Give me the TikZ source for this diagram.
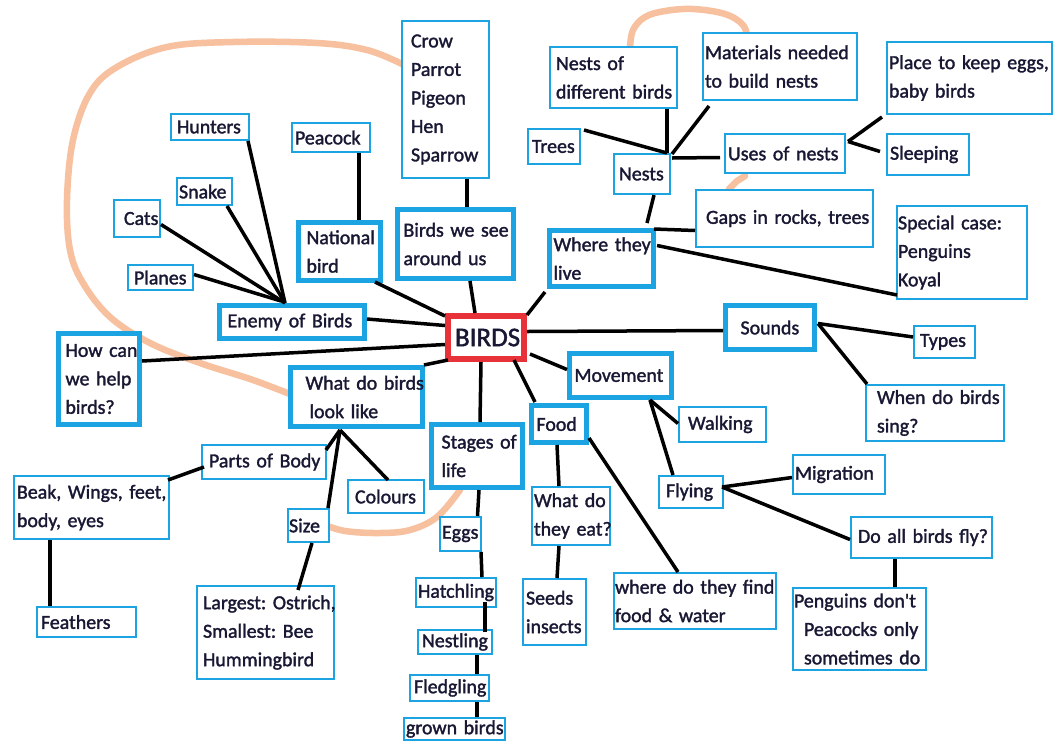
\documentclass[tikz,border=0pt]{standalone}
\usepackage{fontspec}
\setmainfont{Carlito}[FakeBold=1.6]
\usetikzlibrary{calc}
\definecolor{boxblue}{RGB}{28,163,226}
\definecolor{birdred}{RGB}{232,50,58}
\definecolor{crayon}{RGB}{247,192,158}
\definecolor{ink}{RGB}{24,24,52}

% \mmnode{style}{name}{x1}{y1}{x2}{y2}{left padding}{text}
\newcommand\mmnode[8]{%
  \pgfmathsetmacro\mmw{#5-#3-3}%
  \pgfmathsetmacro\mmh{#6-#4-3}%
  \node[#1, anchor=north west, minimum width=\mmw pt, minimum height=\mmh pt,
        inner xsep=0pt, inner ysep=0pt, text width=\mmw pt, align=left]
        (#2) at (#3,#4) {\frenchspacing\leftskip=#7pt\rightskip=-40pt plus 1fil\relax #8\par};}

\tikzset{
  every node/.style={font=\fontsize{19.9}{28.5}\selectfont, text=ink},
  thinbox/.style={draw=boxblue, line width=2pt, fill=white},
  thickbox/.style={draw=boxblue, line width=5pt, fill=white},
  corebox/.style={draw=birdred, line width=6pt, fill=white,
                  font=\fontsize{27}{30}\selectfont},
  link/.style={line width=3.5pt, draw=black},
  crayonline/.style={draw=crayon, line width=6.5pt, line cap=round, line join=round}
}

\begin{document}
\begin{tikzpicture}[x=1pt, y=-1pt]
\useasboundingbox (0,0) rectangle (1063,740);
\fill[white] (0,0) rectangle (1063,740);

% crayon strokes behind the boxes
\draw[crayonline] plot[smooth, tension=0.6] coordinates {
  (402,64) (367,50) (317,43) (233,42) (167,47) (117,67) (90,93) (73,140)
  (67,200) (70,250) (83,283) (110,317) (150,343) (200,363) (253,380) (300,398)};
\draw[crayonline] plot[smooth, tension=0.6] coordinates {
  (322,524) (345,531) (380,533) (410,530) (437,517) (460,490)};
\draw[crayonline] plot[smooth, tension=0.6] coordinates {
  (630,48) (633,30) (645,17) (665,11) (693,9) (725,14) (743,25) (748,40)};
\draw[crayonline] (745,176) -- (737,181) -- (729,189);

% centre
\mmnode{corebox}{birds}{445}{313}{524}{359}{7}{BIRDS}

% upper left branch
\mmnode{thinbox}{crow}{401}{20}{491}{180}{9}{Crow\\Parrot\\Pigeon\\Hen\\Sparrow}
\mmnode{thinbox}{hunters}{170}{113}{251}{142}{6}{Hunters}
\mmnode{thinbox}{peacock}{291}{122}{372}{154}{3}{Peacock}
\mmnode{thinbox}{snake}{176}{177}{234}{207}{2}{Snake}
\mmnode{thinbox}{cats}{113}{199}{162}{239}{10}{Cats}
\mmnode{thinbox}{planes}{127}{264}{195}{292}{6}{Planes}
\mmnode{thickbox}{national}{296}{220}{381}{281}{8}{National\\bird}
\mmnode{thickbox}{birdssee}{395}{207}{514}{279}{6}{Birds we see\\around us}
\mmnode{thickbox}{enemy}{217}{303}{365}{339}{8}{Enemy of Birds}
\mmnode{thickbox}{howcan}{56}{331}{140}{425}{7}{How can\\we help\\birds?}

% upper right branch
\mmnode{thickbox}{wherelive}{547}{228}{654}{287}{4}{Where they\\live}
\mmnode{thinbox}{nestsdiff}{549}{46}{679}{110}{6}{Nests of\\different birds}
\mmnode{thinbox}{trees}{527}{128}{582}{166}{4}{Trees}
\mmnode{thinbox}{nests}{613}{153}{672}{196}{5}{Nests}
\mmnode{thinbox}{materials}{702}{32}{859}{102}{2}{Materials needed\\to build nests}
\mmnode{thinbox}{placekeep}{886}{41}{1054}{116}{2}{Place to keep eggs,\\baby birds}
\mmnode{thinbox}{uses}{724}{133}{847}{175}{3}{Uses of nests}
\mmnode{thinbox}{sleeping}{886}{133}{971}{177}{3}{Sleeping}
\mmnode{thinbox}{gaps}{695}{189}{875}{249}{10}{Gaps in rocks, trees}
\mmnode{thinbox}{special}{896}{205}{1029}{301}{1}{Special case:\\Penguins\\Koyal}
\mmnode{thickbox}{sounds}{723}{303}{815}{350}{15}{Sounds}
\mmnode{thinbox}{types}{913}{325}{977}{360}{6}{Types}
\mmnode{thinbox}{whensing}{865}{384}{1006}{443}{11}{When do birds\\sing?}

% lower right branch
\mmnode{thickbox}{movement}{567}{351}{672}{398}{5}{Movement}
\mmnode{thinbox}{walking}{678}{406}{768}{444}{9}{Walking}
\mmnode{thinbox}{flying}{658}{475}{725}{510}{7}{Flying}
\mmnode{thinbox}{migration}{792}{454}{887}{496}{2}{Migration}
\mmnode{thinbox}{doallfly}{850}{516}{994}{560}{7}{Do all birds fly?}
\mmnode{thinbox}{penguins}{792}{587}{928}{672}{1}{Penguins don\textquotesingle t\\\hspace*{10pt}Peacocks only\\\hspace*{10pt}sometimes do}
\mmnode{thickbox}{food}{529}{403}{587}{443}{5}{Food}
\mmnode{thinbox}{whateat}{531}{486}{612}{547}{2}{What do\\they eat?}
\mmnode{thinbox}{seeds}{522}{578}{588}{647}{3}{Seeds\\insects}
\mmnode{thinbox}{wherefind}{613}{572}{778}{631}{1}{where do they find\\food \& water}

% lower left branch
\mmnode{thickbox}{whatlook}{288}{365}{423}{427}{15}{What do birds\\\hspace*{4pt}look like}
\mmnode{thinbox}{partsbody}{201}{444}{328}{481}{7}{Parts of Body}
\mmnode{thinbox}{beak}{13}{475}{171}{541}{3}{Beak, Wings, feet,\\body, eyes}
\mmnode{thinbox}{feathers}{36}{606}{138}{639}{4}{Feathers}
\mmnode{thinbox}{size}{287}{508}{331}{544}{1}{Size}
\mmnode{thinbox}{largest}{196}{585}{336}{681}{6}{Largest: Ostrich,\\Smallest: Bee\\Hummingbird}
\mmnode{thinbox}{colours}{347}{479}{426}{515}{7}{Colours}

% stages of life
\mmnode{thickbox}{stages}{429}{422}{523}{488}{10}{Stages of\\life}
\mmnode{thinbox}{eggs}{439}{516}{483}{553}{2}{Eggs}
\mmnode{thinbox}{hatchling}{415}{577}{498}{609}{2}{Hatchling}
\mmnode{thinbox}{nestling}{417}{629}{494}{656}{4}{Nestling}
\mmnode{thinbox}{fledgling}{409}{674}{491}{703}{4}{Fledgling}
\mmnode{thinbox}{grown}{403}{717}{507}{742}{2}{grown birds}

% junction points
\coordinate (ehub) at ($(enemy.north west)+(68,0)$);
\coordinate (nhub) at ($(nests.north west)+(54,0)$);
\coordinate (uhub) at ($(uses.east)+(2,-12)$);
\coordinate (mhub) at ($(movement.south west)+(83,0)$);
\coordinate (fhub) at ($(flying.east)+(-2,-5)$);
\coordinate (lhub) at ($(whatlook.south west)+(52,1)$);
\coordinate (shub) at ($(sounds.east)+(1,-4)$);

% connectors
\draw[link] ($(hunters.south east)+(-2,0)$) -- (ehub);
\draw[link] ($(snake.south east)+(-6,0)$) -- (ehub);
\draw[link] ($(cats.east)+(0,6)$) -- (ehub);
\draw[link] ($(planes.east)+(0,-3)$) -- ($(ehub)+(-4,-2)$);
\draw[link] ($(peacock.south west)+(68,0)$) -- ($(national.north west)+(63,0)$);
\draw[link] ($(national.south east)+(-8,-1)$) -- ($(birds.north west)+(0,3)$);
\draw[link] ($(enemy.east)+(0,-3)$) -- ($(birds.west)+(0,-12)$);
\draw[link] ($(howcan.east)+(0,-18)$) -- ($(birds.west)+(0,7)$);
\draw[link] ($(whatlook.north east)+(-1,0)$) -- ($(birds.south west)+(3,-2)$);
\draw[link] ($(birdssee.south west)+(75,0)$) -- ($(birds.north west)+(30,0)$);
\draw[link] ($(crow.south west)+(66,0)$) -- ($(birdssee.north west)+(72,0)$);
\draw[link] ($(wherelive.south west)+(-2,3)$) -- ($(birds.north east)+(0,2)$);
\draw[link] ($(birds.east)+(0,-6)$) -- ($(sounds.west)+(0,3)$);
\draw[link] ($(birds.south east)+(3,-8)$) -- ($(movement.west)+(0,-6)$);
\draw[link] ($(birds.south east)+(-13,-2)$) -- ($(food.north west)+(6,-1)$);
\draw[link] ($(birds.south)+(-5,0)$) -- ($(stages.north)+(3,0)$);
\draw[link] ($(stages.south)+(2,0)$) -- ($(eggs.north)+(17,0)$);
\draw[link] ($(eggs.south east)+(-1,0)$) -- ($(hatchling.north west)+(67,0)$);
\draw[link] ($(hatchling.south west)+(70,-6)$) -- ($(nestling.north west)+(68,3)$);
\draw[link] ($(nestling.south west)+(60,0)$) -- ($(fledgling.north west)+(68,0)$);
\draw[link] ($(fledgling.south west)+(68,0)$) -- ($(grown.north west)+(74,0)$);
\draw[link] ($(food.south west)+(28,0)$) -- ($(whateat.north west)+(28,0)$);
\draw[link] ($(whateat.south west)+(28,0)$) -- ($(seeds.north west)+(35,0)$);
\draw[link] ($(food.east)+(0,14)$) -- ($(wherefind.north west)+(65,0)$);
\draw[link] (mhub) -- ($(walking.west)+(0,-1)$);
\draw[link] (mhub) -- ($(flying.north west)+(15,0)$);
\draw[link] (fhub) -- ($(migration.west)+(0,3)$);
\draw[link] (fhub) -- ($(doallfly.west)+(0,2)$);
\draw[link] ($(doallfly.south west)+(45,0)$) -- ($(penguins.north west)+(103,0)$);
\draw[link] (shub) -- ($(types.west)+(0,-5)$);
\draw[link] (shub) -- ($(whensing.north west)+(2,0)$);
\draw[link] ($(wherelive.north east)+(-2,1)$) -- ($(gaps.west)+(0,12)$);
\draw[link] ($(wherelive.east)+(1,-13)$) -- ($(special.south west)+(1,-5)$);
\draw[link] ($(nests.south west)+(41,0)$) -- ($(wherelive.north west)+(100,-5)$);
\draw[link] ($(trees.north east)+(3,2)$) -- (nhub);
\draw[link] ($(nestsdiff.south west)+(118,0)$) -- (nhub);
\draw[link] ($(materials.south west)+(7,5)$) -- ($(nests.north east)+(1,1)$);
\draw[link] ($(nests.north east)+(1,5)$) -- ($(uses.west)+(-4,4)$);
\draw[link] (uhub) -- ($(placekeep.south west)+(-4,2)$);
\draw[link] (uhub) -- ($(sleeping.west)+(-6,-3)$);
\draw[link] ($(partsbody.west)+(3,5)$) -- ($(beak.north east)+(-2,5)$);
\draw[link] ($(beak.south west)+(37,0)$) -- ($(feathers.north west)+(14,0)$);
\draw[link] (lhub) -- ($(partsbody.north east)+(-1,6)$);
\draw[link] (lhub) -- ($(size.north east)+(-2,0)$);
\draw[link] (lhub) -- ($(colours.north west)+(41,1)$);
\draw[link] ($(size.south west)+(25,0)$) -- ($(largest.north west)+(102,5)$);
\end{tikzpicture}
\end{document}
